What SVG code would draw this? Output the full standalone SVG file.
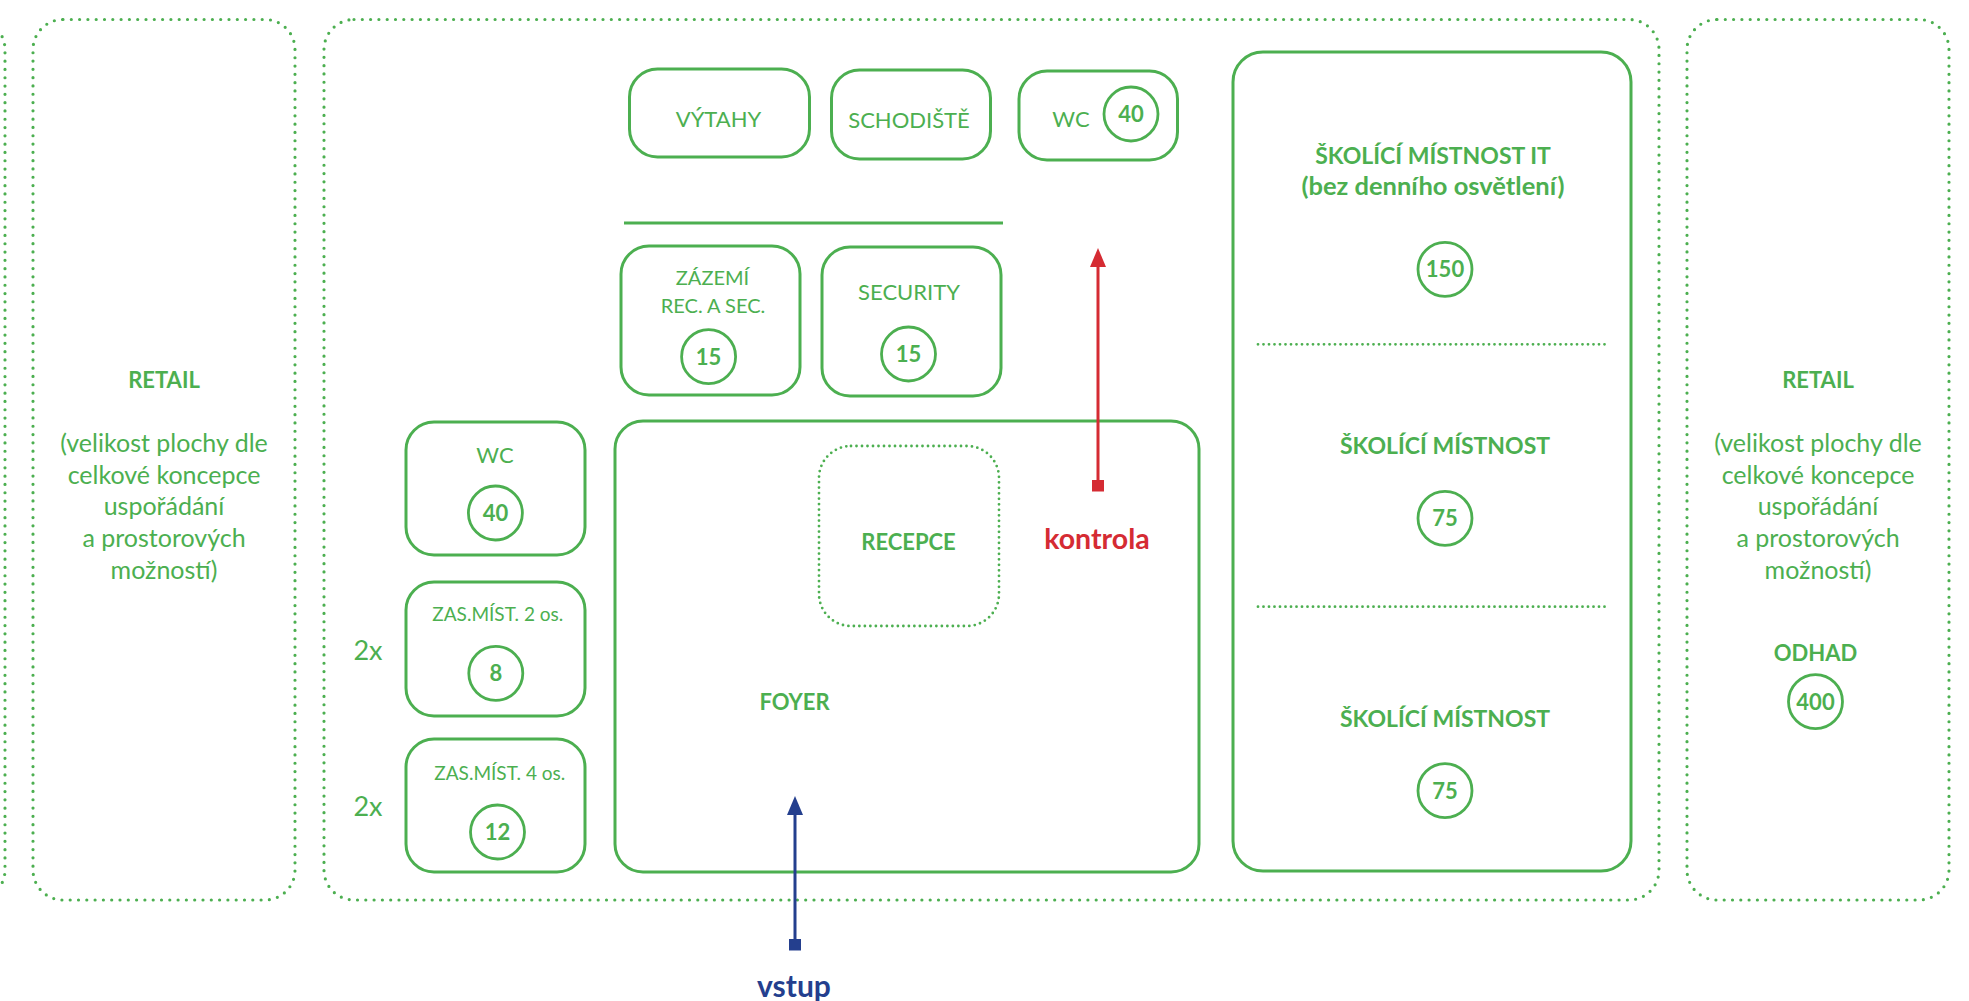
<svg xmlns="http://www.w3.org/2000/svg" width="1969" height="1001" viewBox="0 0 1969 1001">
<style>
.bg{fill:#ffffff}
.zone{fill:none;stroke:#4CAF50;stroke-width:3.2;stroke-dasharray:0 8.3;stroke-linecap:round}
.fine{fill:none;stroke:#4CAF50;stroke-width:2.8;stroke-dasharray:0 5.5;stroke-linecap:round}
.box{fill:none;stroke:#4CAF50;stroke-width:3}
.num{fill:none;stroke:#4CAF50;stroke-width:2.8}
text{font-family:Lato,"Liberation Sans",sans-serif;fill:#4CAF50;text-anchor:middle}
.r{font-weight:400}
.b{font-weight:700}
.s25{font-size:25px}
.s22{font-size:22px}
.s20{font-size:20px}
.s19{font-size:19px}
.s23{font-size:23px}
.n{font-size:22px;font-weight:700}
.red{fill:#D52B33}
.blue{fill:#243F8E}
</style>
<defs>
<marker id="headR" markerUnits="userSpaceOnUse" markerWidth="20" markerHeight="16" refX="0" refY="8" orient="auto"><path d="M0,0 L19,8 L0,16 z" fill="#D52B33"/></marker>
<marker id="tailR" markerUnits="userSpaceOnUse" markerWidth="12" markerHeight="12" refX="6" refY="6" orient="auto"><rect x="0" y="0" width="12" height="12" fill="#D52B33"/></marker>
<marker id="headB" markerUnits="userSpaceOnUse" markerWidth="20" markerHeight="16" refX="0" refY="8" orient="auto"><path d="M0,0 L19,8 L0,16 z" fill="#243F8E"/></marker>
<marker id="tailB" markerUnits="userSpaceOnUse" markerWidth="12" markerHeight="12" refX="6" refY="6" orient="auto"><rect x="0" y="0" width="12" height="12" fill="#243F8E"/></marker>
</defs>
<rect class="bg" x="0" y="0" width="1969" height="1001"/>

<g id="zone-left-partial"><rect class="zone" x="-320" y="19.5" width="325" height="880.5" rx="30"/></g>

<g id="retail-left">
<rect class="zone" x="33" y="19.5" width="262" height="880.5" rx="30"/>
<text class="b s22" x="164" y="388">RETAIL</text>
<text class="r s25" x="164" y="452">(velikost plochy dle</text>
<text class="r s25" x="164" y="484">celkové koncepce</text>
<text class="r s25" x="164" y="515">uspořádání</text>
<text class="r s25" x="164" y="547">a prostorových</text>
<text class="r s25" x="164" y="579">možností)</text>
</g>

<g id="main-zone"><rect class="zone" x="324" y="19.5" width="1335" height="880.5" rx="30"/></g>

<g id="retail-right">
<rect class="zone" x="1687" y="19.5" width="262" height="880.5" rx="30"/>
<text class="b s22" x="1818" y="388">RETAIL</text>
<text class="r s25" x="1818" y="452">(velikost plochy dle</text>
<text class="r s25" x="1818" y="484">celkové koncepce</text>
<text class="r s25" x="1818" y="515">uspořádání</text>
<text class="r s25" x="1818" y="547">a prostorových</text>
<text class="r s25" x="1818" y="579">možností)</text>
<text class="b s22" x="1815.5" y="660.5">ODHAD</text>
<circle class="num" cx="1815.5" cy="701.7" r="27"/>
<text class="n" x="1815.5" y="709.5">400</text>
</g>

<g id="vytahy">
<rect class="box" x="629.5" y="69" width="180" height="88" rx="28"/>
<text class="r s22" x="718.5" y="126.5">VÝTAHY</text>
</g>

<g id="schodiste">
<rect class="box" x="831.5" y="70" width="159" height="89" rx="28"/>
<text class="r s22" x="909" y="127.5">SCHODIŠTĚ</text>
</g>

<g id="wc-top">
<rect class="box" x="1019" y="71" width="158.5" height="89" rx="28"/>
<text class="r s22" x="1071" y="126.5">WC</text>
<circle class="num" cx="1131" cy="114" r="27"/>
<text class="n" x="1131" y="122">40</text>
</g>

<g id="divider"><line x1="624" y1="223" x2="1003" y2="223" stroke="#4CAF50" stroke-width="3"/></g>

<g id="zazemi">
<rect class="box" x="621" y="246" width="179" height="149" rx="28"/>
<text class="r s20" x="712.5" y="285">ZÁZEMÍ</text>
<text class="r s20" x="713" y="313">REC. A SEC.</text>
<circle class="num" cx="708.6" cy="356.7" r="27"/>
<text class="n" x="708.6" y="364.5">15</text>
</g>

<g id="security">
<rect class="box" x="822" y="247" width="179" height="149" rx="28"/>
<text class="r s22" x="909" y="300">SECURITY</text>
<circle class="num" cx="908.5" cy="354" r="27"/>
<text class="n" x="908.5" y="362">15</text>
</g>

<g id="foyer">
<rect class="box" x="615" y="421" width="584" height="451" rx="28"/>
<text class="b s22" x="794.5" y="710">FOYER</text>
</g>

<g id="recepce">
<rect class="fine" x="819" y="446" width="180" height="180" rx="32"/>
<text class="b s22" x="908.5" y="550">RECEPCE</text>
</g>

<g id="kontrola"><text class="b red" style="font-size:28.5px" x="1097" y="549">kontrola</text></g>

<g id="wc-left">
<rect class="box" x="406" y="422" width="179" height="133" rx="28"/>
<text class="r s22" x="495" y="463">WC</text>
<circle class="num" cx="495.4" cy="513" r="27"/>
<text class="n" x="495.4" y="521">40</text>
</g>

<g id="zas2">
<text class="r" style="font-size:27px" x="368" y="660">2x</text>
<rect class="box" x="406" y="582" width="179" height="134" rx="28"/>
<text class="r s19" x="497.8" y="620.5">ZAS.MÍST. 2 os.</text>
<circle class="num" cx="495.8" cy="673.3" r="27"/>
<text class="n" x="495.8" y="681.3">8</text>
</g>

<g id="zas4">
<text class="r" style="font-size:27px" x="368" y="816">2x</text>
<rect class="box" x="406" y="739" width="179" height="133" rx="28"/>
<text class="r s19" x="499.8" y="780">ZAS.MÍST. 4 os.</text>
<circle class="num" cx="497.5" cy="832" r="27"/>
<text class="n" x="497.5" y="840">12</text>
</g>

<g id="skolici">
<rect class="box" x="1233" y="52" width="398" height="819" rx="30"/>
<text class="b s23" x="1433" y="164">ŠKOLÍCÍ MÍSTNOST IT</text>
<text class="b" style="font-size:25.5px" x="1433" y="195">(bez denního osvětlení)</text>
<circle class="num" cx="1445" cy="269.3" r="27"/>
<text class="n" x="1445" y="277.3">150</text>
<line class="fine" x1="1258" y1="344.3" x2="1610" y2="344.3"/>
<text class="b s23" x="1445" y="454">ŠKOLÍCÍ MÍSTNOST</text>
<circle class="num" cx="1445" cy="518.3" r="27"/>
<text class="n" x="1445" y="526.3">75</text>
<line class="fine" x1="1258" y1="606.7" x2="1610" y2="606.7"/>
<text class="b s23" x="1445" y="726.5">ŠKOLÍCÍ MÍSTNOST</text>
<circle class="num" cx="1445" cy="790.7" r="27"/>
<text class="n" x="1445" y="798.7">75</text>
</g>

<g id="connectors">
<line x1="1098" y1="485.5" x2="1098" y2="267" stroke="#D52B33" stroke-width="3" marker-start="url(#tailR)" marker-end="url(#headR)"/>
<line x1="795" y1="944.5" x2="795" y2="815" stroke="#243F8E" stroke-width="3" marker-start="url(#tailB)" marker-end="url(#headB)"/>
</g>

<g id="vstup"><text class="b blue" style="font-size:30px" x="794" y="997">vstup</text></g>
</svg>
